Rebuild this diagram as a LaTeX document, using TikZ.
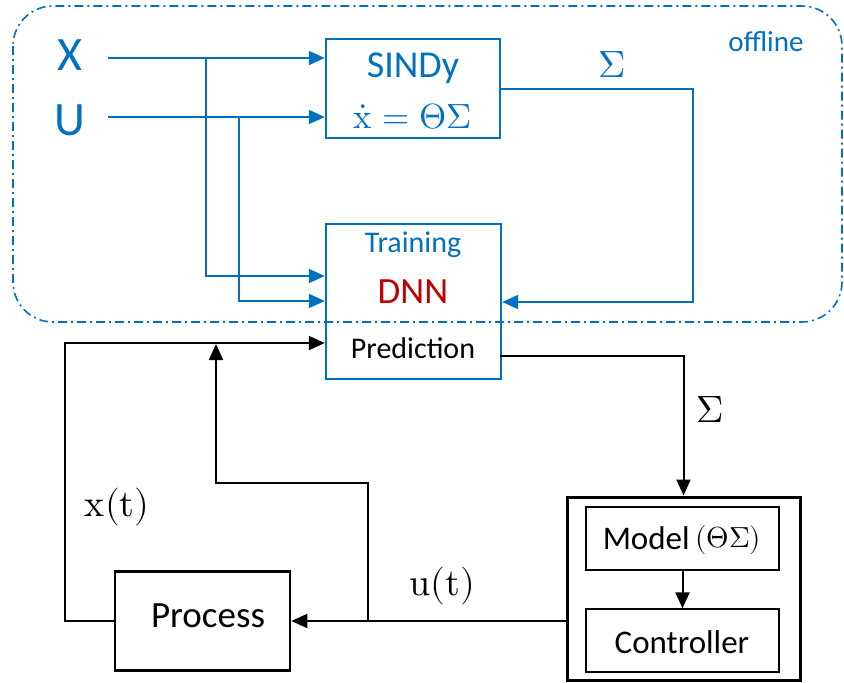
\documentclass[tikz,border=0pt]{standalone}
\usepackage{fontspec}
\usepackage{unicode-math}
\setmainfont{Carlito}
\setmathfont{Latin Modern Math}
\usetikzlibrary{arrows.meta}
\definecolor{mblue}{HTML}{0070C0}
\definecolor{mred}{HTML}{C00000}

\begin{document}
\begin{tikzpicture}[x=1pt,y=-1pt,
  fs/.style={font=\fontsize{#1}{#1}\selectfont},
  box/.style={draw,line width=#1,inner sep=0pt},
  bline/.style={draw=mblue,line width=2pt},
  kline/.style={draw=black,line width=2pt},
  tipb/.style={-{Triangle[length=16pt,width=14pt]}},
  barrow/.style={bline,tipb},
  karrow/.style={kline,tipb},
  lbl/.style={inner sep=0pt}]
\useasboundingbox (0,0) rectangle (844,683);

% ---- offline part: identification and training ----
\node[box=2.4pt,draw=mblue,minimum width=174pt,minimum height=99pt] (sindy) at (413,88.5) {};
\node[lbl,fs=38,text=mblue] (sindyt) at (413,68) {SINDy};
\node[lbl,fs=35,text=mblue] (sindye) at (413,117) {$\dot{\symup{x}}=\Theta\Sigma$};

\node[box=2.4pt,draw=mblue,minimum width=175pt,minimum height=155pt] (dnn) at (413.5,301.5) {};
\node[lbl,fs=30,text=mblue] (train) at (413,245) {Training};
\node[lbl,fs=37,text=mred] (dnnt) at (413,292) {DNN};
\node[lbl,fs=30] (pred) at (413,348) {Prediction};

\node[lbl,fs=48,text=mblue] (xin) at (70,55) {X};
\node[lbl,fs=48,text=mblue] (uin) at (70,120) {U};
\node[lbl,fs=29,text=mblue] (off) at (766,42) {offline};
\node[lbl,fs=38,text=mblue] (sig1) at (612,65) {$\Sigma$};

\coordinate (xs) at (108,58);
\coordinate (us) at (108,117);
\coordinate (xb) at (206,58);
\coordinate (ub) at (239,117);
\coordinate (xd) at (206,276);
\coordinate (ud) at (239,301);
\coordinate (so) at (500,89);
\coordinate (sc) at (693,302);

\draw[barrow] (xs) -- (xs -| sindy.west);
\draw[barrow] (us) -- (us -| sindy.west);
\draw[barrow] (xb) -- (xd) -- (xd -| dnn.west);
\draw[barrow] (ub) -- (ud) -- (ud -| dnn.west);
\draw[barrow] (so) -| (sc) -- (sc -| dnn.east);

% ---- online part: process and controller ----
\node[box=2.6pt,minimum width=175pt,minimum height=99pt] (proc) at (202.5,621) {};
\node[lbl,fs=37] (proct) at (208,616) {Process};

\node[box=3pt,minimum width=233pt,minimum height=183pt] (ctrl) at (683.5,588.5) {};
\node[box=1.4pt,minimum width=193pt,minimum height=63pt] (model) at (682.5,538.5) {};
\node[lbl,fs=33] (modelt) at (682,540) {Model\,\raisebox{2pt}{\fontsize{29}{29}\selectfont$(\Theta\Sigma)$}};
\node[box=1.4pt,minimum width=193pt,minimum height=63pt] (contr) at (682.5,640.5) {};
\node[lbl,fs=33] (contrt) at (682,642) {Controller};

\node[lbl,fs=38] (xt) at (117,507) {$\symup{x}(\symup{t})$};
\node[lbl,fs=38] (ut) at (442,586) {$\symup{u}(\symup{t})$};
\node[lbl,fs=38] (sig2) at (710,410) {$\Sigma$};

\coordinate (pin) at (65,343);
\coordinate (ub2) at (368,621);
\coordinate (uc) at (216,483);
\coordinate (ue) at (216,344);
\coordinate (po) at (500,356);

\draw[karrow] (proc.west) -| (pin) -- (pin -| dnn.west);
\draw[karrow] (proc.east -| ctrl.west) -- (proc.east);
\draw[karrow] (ub2) |- (uc) -- (ue);
\draw[karrow] (po) -| (ctrl.north);
\draw[karrow] (model) -- (contr);

% offline frame, drawn last so it runs across the DNN box
\draw[mblue,line width=1.6pt,rounded corners=40pt,
      dash pattern=on 9pt off 4pt on 2pt off 4pt] (13,6) rectangle (842,322);
\end{tikzpicture}
\end{document}
